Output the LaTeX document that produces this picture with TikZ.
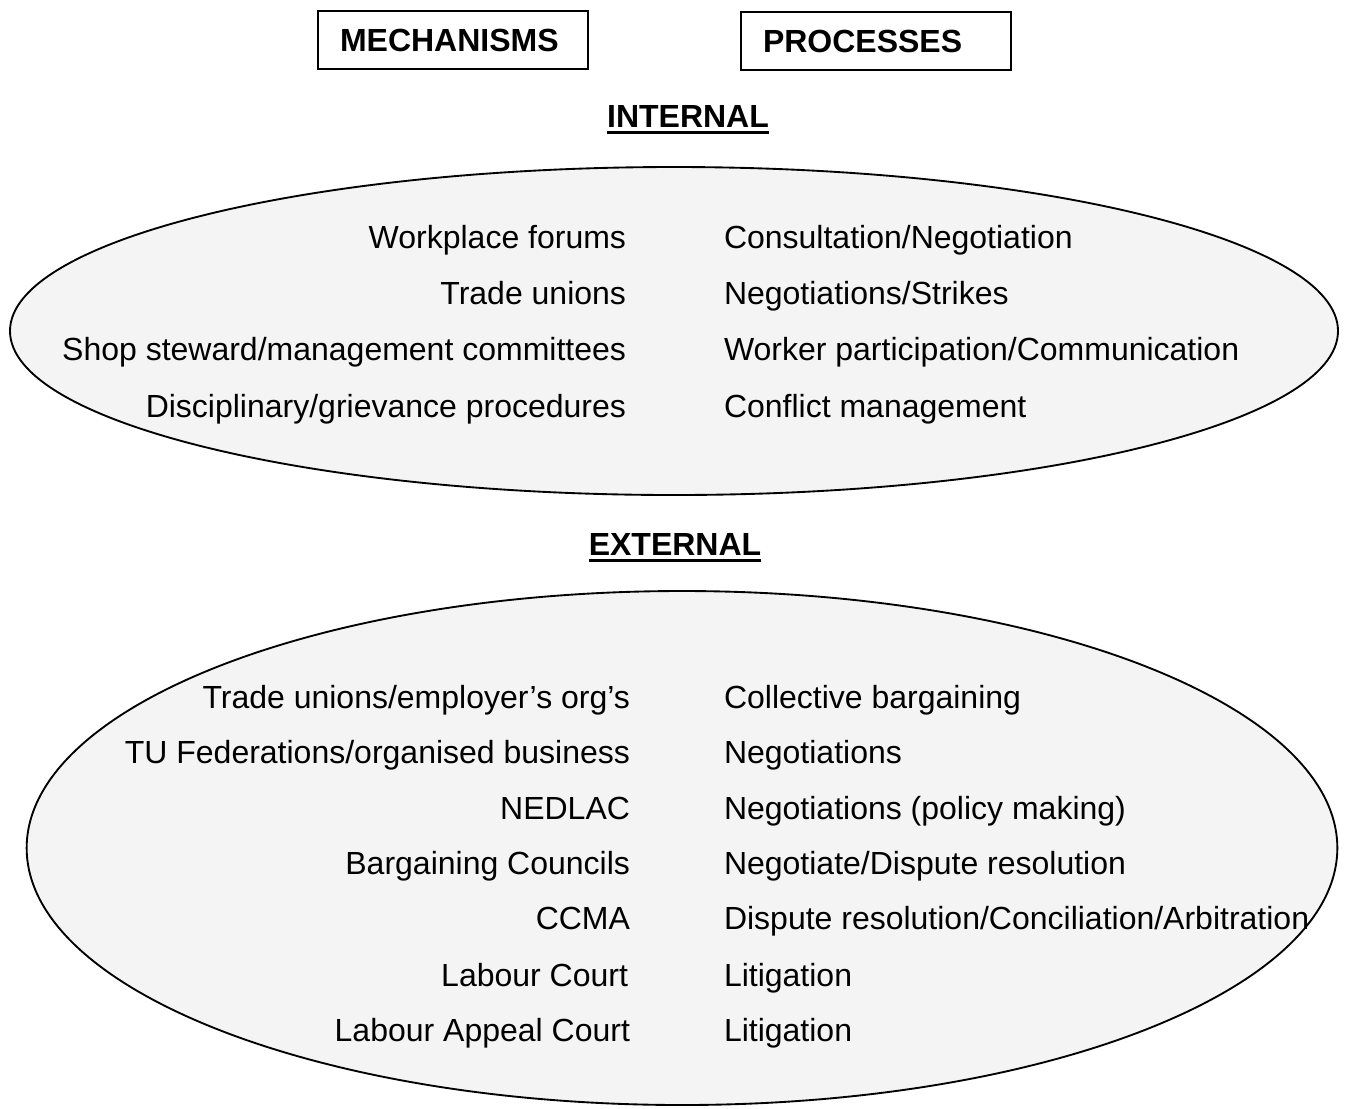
\documentclass[tikz,border=0pt]{standalone}
\usepackage{fontspec}
\setmainfont{Liberation Sans}
\usetikzlibrary{shapes.geometric}
\begin{document}
\begin{tikzpicture}[x=0.75pt,y=-0.75pt,
  every node/.style={inner sep=0pt, outer sep=0pt},
  txt/.style={font=\fontsize{24}{28}\selectfont},
  mech/.style={txt, anchor=base east},
  proc/.style={txt, anchor=base west},
  headbox/.style={draw, line width=1.3pt, font=\fontsize{24}{28}\selectfont\bfseries,
    minimum width=202.5pt, minimum height=43.5pt, text width=169.5pt, align=left, inner xsep=16.5pt},
  section/.style={font=\fontsize{24}{28}\selectfont\bfseries, anchor=base},
  uline/.style={line width=2pt},
  oval/.style={ellipse, draw, line width=1.4pt, fill=gray!9}]
\useasboundingbox (0,0) rectangle (1345,1108);

% column headings
\node[headbox] (mechanisms) at (453,40) {MECHANISMS};
\node[headbox] (processes) at (876,41) {PROCESSES};

% internal relations
\node[section] (internal) at (688,127) {INTERNAL};
\draw[uline] ([yshift=-4pt]internal.base west) -- ([yshift=-4pt]internal.base east);
\node[oval, minimum width=996pt, minimum height=246pt] (inner) at (674,331) {};

\node[mech] (m1) at (626,248) {Workplace forums};
\node[mech] (m2) at (626,304) {Trade unions};
\node[mech] (m3) at (626,360) {Shop steward/management committees};
\node[mech] (m4) at (626,417) {Disciplinary/grievance procedures};
\node[proc] (p1) at (724,248) {Consultation/Negotiation};
\node[proc] (p2) at (724,304) {Negotiations/Strikes};
\node[proc] (p3) at (724,360) {Worker participation/Communication};
\node[proc] (p4) at (724,417) {Conflict management};

% external relations
\node[section] (external) at (675,555) {EXTERNAL};
\draw[uline] ([yshift=-4pt]external.base west) -- ([yshift=-4pt]external.base east);
\node[oval, minimum width=983pt, minimum height=385.5pt] (outer) at (682,848) {};

\node[mech] (e1) at (630,708) {Trade unions/employer's org's};
\node[mech] (e2) at (630,763) {TU Federations/organised business};
\node[mech] (e3) at (630,819) {NEDLAC};
\node[mech] (e4) at (630,874) {Bargaining Councils};
\node[mech] (e5) at (630,929) {CCMA};
\node[mech] (e6) at (628,986) {Labour Court};
\node[mech] (e7) at (630,1041) {Labour Appeal Court};
\node[proc] (q1) at (724,708) {Collective bargaining};
\node[proc] (q2) at (724,763) {Negotiations};
\node[proc] (q3) at (724,819) {Negotiations (policy making)};
\node[proc] (q4) at (724,874) {Negotiate/Dispute resolution};
\node[proc] (q5) at (724,929) {Dispute resolution/Conciliation/Arbitration};
\node[proc] (q6) at (724,986) {Litigation};
\node[proc] (q7) at (724,1041) {Litigation};
\end{tikzpicture}
\end{document}
